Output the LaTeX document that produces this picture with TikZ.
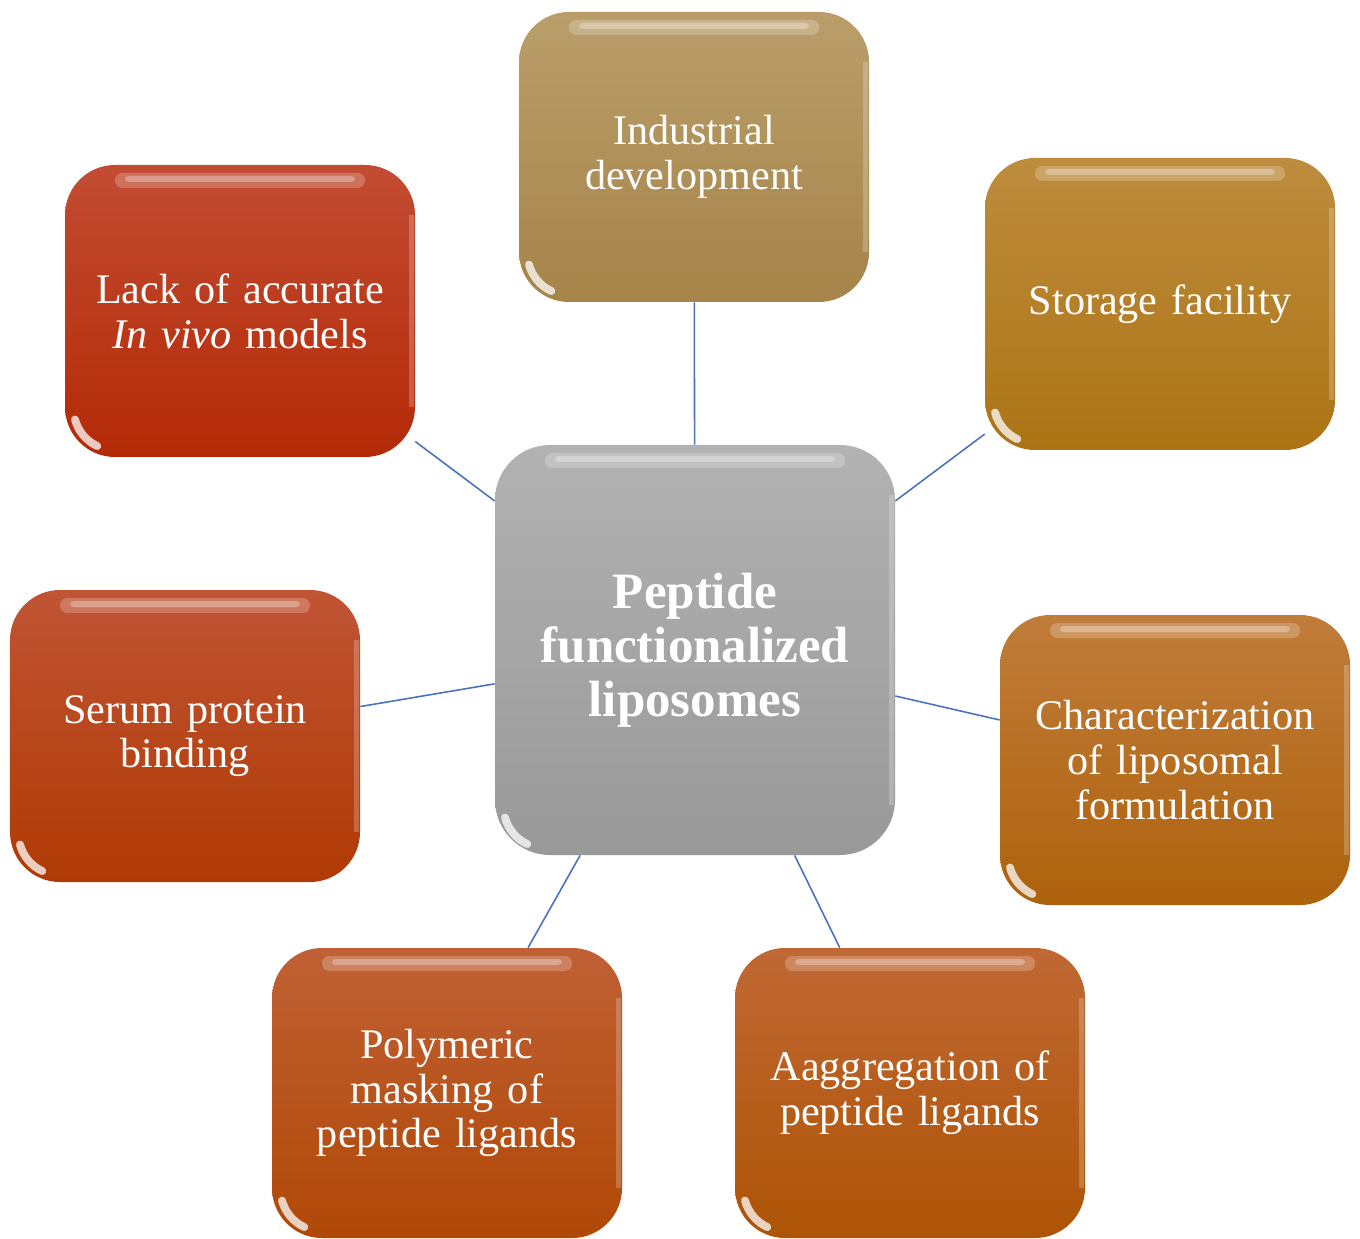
\documentclass[tikz,border=0pt]{standalone}
\usepackage{fontspec}
\setmainfont{Liberation Serif}
\usepackage{xcolor}
\usepackage{tikz}
\usetikzlibrary{positioning}

\definecolor{hubTop}{HTML}{B2B2B2}
\definecolor{hubBot}{HTML}{999999}
\definecolor{indTop}{HTML}{BA9E6A}
\definecolor{indBot}{HTML}{A6844A}
\definecolor{storTop}{HTML}{BE8C3E}
\definecolor{storBot}{HTML}{AC7414}
\definecolor{lackTop}{HTML}{C24C32}
\definecolor{lackBot}{HTML}{B42A06}
\definecolor{serumTop}{HTML}{C05434}
\definecolor{serumBot}{HTML}{B03A04}
\definecolor{charTop}{HTML}{C07C3A}
\definecolor{charBot}{HTML}{AE620C}
\definecolor{polyTop}{HTML}{C06034}
\definecolor{polyBot}{HTML}{B04806}
\definecolor{aggrTop}{HTML}{C06834}
\definecolor{aggrBot}{HTML}{AE5406}
\definecolor{linkBlue}{HTML}{4A72C0}

\begin{document}
\begin{tikzpicture}[
  gloss/.style  = {path picture={
                     % shine strip under the top edge
                     \fill[white, opacity=0.22, rounded corners=4pt]
                       ([xshift=1.0cm, yshift=-0.16cm]path picture bounding box.north west)
                       rectangle ([xshift=-1.0cm, yshift=-0.46cm]path picture bounding box.north east);
                     \fill[white, opacity=0.3, rounded corners=2pt]
                       ([xshift=1.2cm, yshift=-0.22cm]path picture bounding box.north west)
                       rectangle ([xshift=-1.2cm, yshift=-0.34cm]path picture bounding box.north east);
                     % light rim on the right side
                     \draw[white, opacity=0.22, line width=3pt]
                       ([xshift=-0.07cm, yshift=-1.0cm]path picture bounding box.north east)
                       -- ([xshift=-0.07cm, yshift=1.0cm]path picture bounding box.south east);
                     % glint in the lower left corner
                     \draw[white, opacity=0.75, line width=4.5pt, line cap=round]
                       ([xshift=0.2cm, yshift=0.75cm]path picture bounding box.south west)
                       arc[start angle=195, end angle=245, radius=0.82cm];
                   }},
  leafbox/.style = {rectangle, rounded corners=1cm, gloss,
                    minimum width=7cm, minimum height=5.84cm,
                    text width=6.6cm, align=center, text=white,
                    font=\fontsize{24}{25.5}\selectfont},
  hubbox/.style  = {rectangle, rounded corners=1.1cm, gloss,
                    top color=hubTop, bottom color=hubBot,
                    minimum width=8cm, minimum height=8.2cm,
                    text width=7.4cm, align=center, text=white,
                    font=\fontsize{29}{30.7}\selectfont\bfseries},
  tint/.style 2 args = {top color=#1, bottom color=#2},
  link/.style    = {draw=linkBlue, line width=0.9pt}
]
\useasboundingbox (0,0) rectangle (27.2,-24.78);

\node[hubbox] (hub) at (13.9,-13) {Peptide\\functionalized\\liposomes};

\node[leafbox, tint={indTop}{indBot}, minimum height=5.8cm]
  (ind) at (13.88,-3.14) {Industrial\\development};
\node[leafbox, tint={storTop}{storBot}]
  (stor) at (23.2,-6.08) {Storage facility};
\node[leafbox, tint={lackTop}{lackBot}]
  (lack) at (4.8,-6.22) {Lack of accurate\\\textit{In vivo} models};
\node[leafbox, tint={serumTop}{serumBot}]
  (serum) at (3.7,-14.72) {Serum protein\\binding};
\node[leafbox, tint={charTop}{charBot}, minimum height=5.8cm]
  (char) at (23.5,-15.2) {Characterization\\of liposomal\\formulation};
\node[leafbox, tint={polyTop}{polyBot}, minimum height=5.8cm]
  (poly) at (8.94,-21.86) {Polymeric\\masking of\\peptide ligands};
\node[leafbox, tint={aggrTop}{aggrBot}, minimum height=5.8cm]
  (aggr) at (18.2,-21.86) {Aaggregation of\\peptide ligands};

% spokes from the hub
\foreach \leaf in {ind, stor, lack, serum, char, poly, aggr}
  \draw[link] (hub) -- (\leaf);
\end{tikzpicture}
\end{document}
